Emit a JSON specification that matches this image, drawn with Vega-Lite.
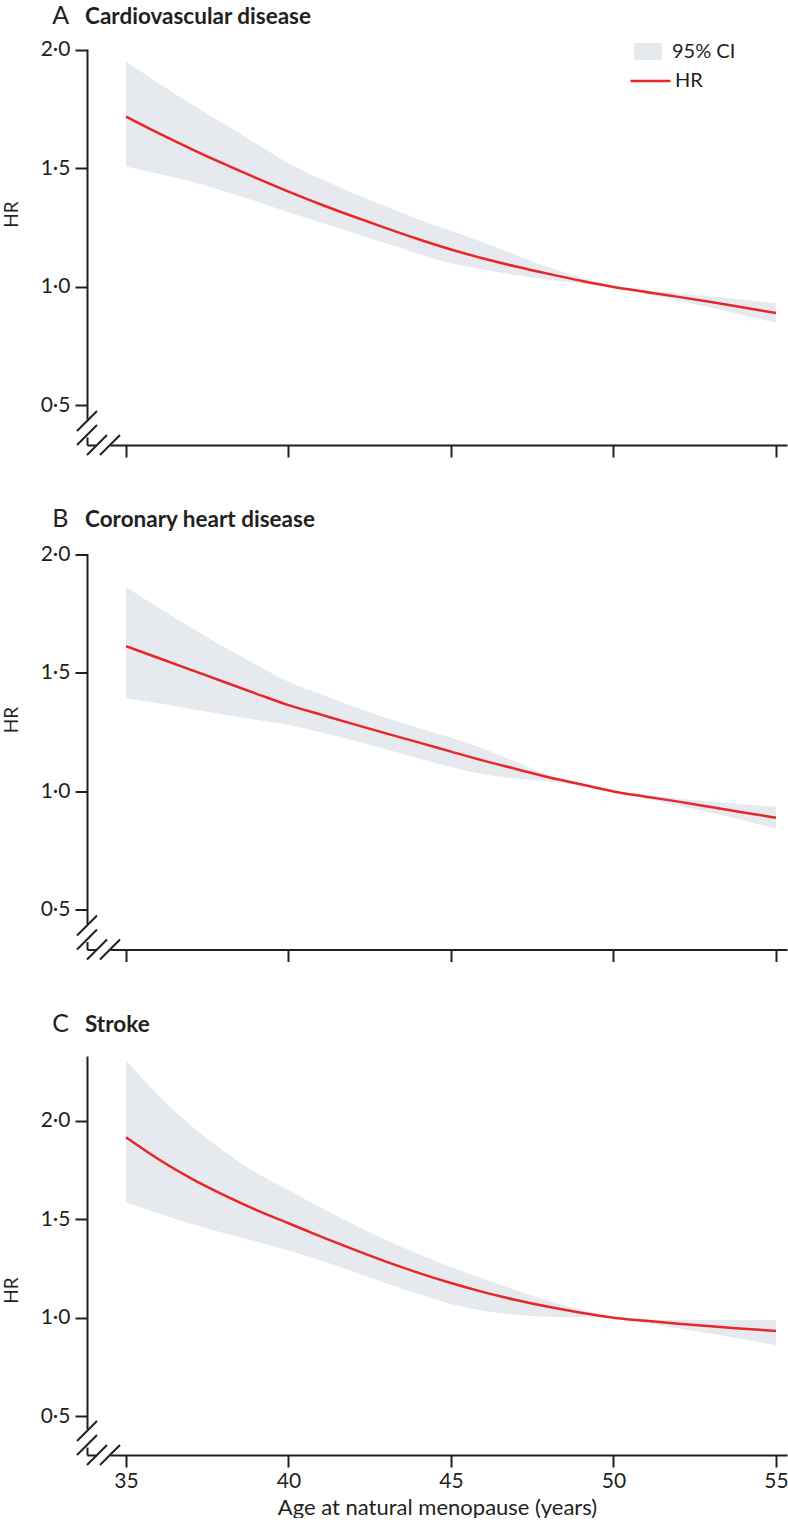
{
  "$schema": "https://vega.github.io/schema/vega-lite/v6.json",
  "padding": {"left": 2, "top": 3, "right": 0, "bottom": 0},
  "background": "white",
  "datasets": {
    "A": [
      {"age": 35, "lo": 1.508, "hr": 1.719, "hi": 1.951},
      {"age": 36, "lo": 1.478, "hr": 1.649, "hi": 1.86},
      {"age": 37, "lo": 1.445, "hr": 1.583, "hi": 1.772},
      {"age": 38, "lo": 1.405, "hr": 1.52, "hi": 1.69},
      {"age": 39, "lo": 1.362, "hr": 1.46, "hi": 1.605},
      {"age": 40, "lo": 1.315, "hr": 1.402, "hi": 1.522},
      {"age": 41, "lo": 1.272, "hr": 1.348, "hi": 1.455},
      {"age": 42, "lo": 1.228, "hr": 1.297, "hi": 1.395},
      {"age": 43, "lo": 1.184, "hr": 1.248, "hi": 1.339},
      {"age": 44, "lo": 1.14, "hr": 1.201, "hi": 1.285},
      {"age": 45, "lo": 1.1, "hr": 1.158, "hi": 1.237},
      {"age": 46, "lo": 1.074, "hr": 1.12, "hi": 1.188},
      {"age": 47, "lo": 1.05, "hr": 1.086, "hi": 1.135},
      {"age": 48, "lo": 1.03, "hr": 1.055, "hi": 1.083},
      {"age": 49, "lo": 1.015, "hr": 1.026, "hi": 1.04},
      {"age": 50, "lo": 1.0, "hr": 1.0, "hi": 1.0},
      {"age": 51, "lo": 0.97, "hr": 0.979, "hi": 0.985},
      {"age": 52, "lo": 0.942, "hr": 0.958, "hi": 0.972},
      {"age": 53, "lo": 0.913, "hr": 0.936, "hi": 0.96},
      {"age": 54, "lo": 0.881, "hr": 0.913, "hi": 0.946},
      {"age": 55, "lo": 0.849, "hr": 0.89, "hi": 0.931}
    ],
    "B": [
      {"age": 35, "lo": 1.392, "hr": 1.613, "hi": 1.863},
      {"age": 36, "lo": 1.372, "hr": 1.563, "hi": 1.775},
      {"age": 37, "lo": 1.348, "hr": 1.513, "hi": 1.692},
      {"age": 38, "lo": 1.325, "hr": 1.463, "hi": 1.61},
      {"age": 39, "lo": 1.303, "hr": 1.413, "hi": 1.535},
      {"age": 40, "lo": 1.28, "hr": 1.364, "hi": 1.463},
      {"age": 41, "lo": 1.25, "hr": 1.324, "hi": 1.41},
      {"age": 42, "lo": 1.215, "hr": 1.284, "hi": 1.358},
      {"age": 43, "lo": 1.178, "hr": 1.245, "hi": 1.31},
      {"age": 44, "lo": 1.14, "hr": 1.207, "hi": 1.268},
      {"age": 45, "lo": 1.103, "hr": 1.168, "hi": 1.226},
      {"age": 46, "lo": 1.072, "hr": 1.13, "hi": 1.18},
      {"age": 47, "lo": 1.055, "hr": 1.095, "hi": 1.125},
      {"age": 48, "lo": 1.043, "hr": 1.06, "hi": 1.07},
      {"age": 49, "lo": 1.025, "hr": 1.03, "hi": 1.03},
      {"age": 50, "lo": 1.0, "hr": 1.0, "hi": 1.0},
      {"age": 51, "lo": 0.97, "hr": 0.978, "hi": 0.985},
      {"age": 52, "lo": 0.94, "hr": 0.957, "hi": 0.97},
      {"age": 53, "lo": 0.91, "hr": 0.934, "hi": 0.956},
      {"age": 54, "lo": 0.877, "hr": 0.911, "hi": 0.945},
      {"age": 55, "lo": 0.844, "hr": 0.889, "hi": 0.935}
    ],
    "C": [
      {"age": 35, "lo": 1.585, "hr": 1.917, "hi": 2.31},
      {"age": 36, "lo": 1.53, "hr": 1.805, "hi": 2.13},
      {"age": 37, "lo": 1.477, "hr": 1.708, "hi": 1.977},
      {"age": 38, "lo": 1.43, "hr": 1.624, "hi": 1.847},
      {"age": 39, "lo": 1.386, "hr": 1.548, "hi": 1.737},
      {"age": 40, "lo": 1.342, "hr": 1.48, "hi": 1.649},
      {"age": 41, "lo": 1.29, "hr": 1.412, "hi": 1.559},
      {"age": 42, "lo": 1.233, "hr": 1.347, "hi": 1.474},
      {"age": 43, "lo": 1.175, "hr": 1.285, "hi": 1.395},
      {"age": 44, "lo": 1.12, "hr": 1.228, "hi": 1.323},
      {"age": 45, "lo": 1.07, "hr": 1.176, "hi": 1.257},
      {"age": 46, "lo": 1.035, "hr": 1.13, "hi": 1.198},
      {"age": 47, "lo": 1.015, "hr": 1.09, "hi": 1.14},
      {"age": 48, "lo": 1.005, "hr": 1.055, "hi": 1.085},
      {"age": 49, "lo": 1.002, "hr": 1.025, "hi": 1.04},
      {"age": 50, "lo": 1.0, "hr": 1.0, "hi": 1.0},
      {"age": 51, "lo": 0.97, "hr": 0.984, "hi": 0.99},
      {"age": 52, "lo": 0.945, "hr": 0.969, "hi": 0.99},
      {"age": 53, "lo": 0.92, "hr": 0.956, "hi": 0.99},
      {"age": 54, "lo": 0.89, "hr": 0.944, "hi": 0.99},
      {"age": 55, "lo": 0.86, "hr": 0.932, "hi": 0.99}
    ]
  },
  "vconcat": [
    {
      "title": {"text": "A", "frame": "bounds", "dx": 50, "offset": -22.5, "fontSize": 25, "fontWeight": "normal"},
      "vconcat": [
        {
          "width": 700,
          "height": 396,
          "title": {"text": "Cardiovascular disease", "frame": "group", "dx": -2, "offset": 10.3},
          "layer": [
            {
              "data": {"name": "A"},
              "mark": {"type": "area", "interpolate": "monotone"},
              "encoding": {
                "x": {"field": "age", "type": "quantitative", "scale": {"domain": [33.8, 55.34], "nice": false, "zero": false},
                      "axis": {"values": [35, 40, 45, 50, 55], "labels": false, "title": null, "tickSize": 12, "domainDash": [9, 14, 3000]}},
                "y": {"field": "lo", "type": "quantitative", "scale": {"domain": [0.333, 2.004], "nice": false, "zero": false},
                      "axis": {"values": [0.5, 1, 1.5, 2], "labelExpr": "replace(format(datum.value,'.1f'),'.','·')", "title": "HR", "tickSize": 12, "domainDash": [8, 18, 3000], "titleY": 165}},
                "y2": {"field": "hi"},
                "fill": {"datum": "95% CI", "type": "nominal", "scale": {"range": ["#e6e9ed"]},
                         "legend": {"title": null, "orient": "none", "legendX": 547, "legendY": -11.5, "symbolType": "M-1,-0.6H1V0.6H-1Z", "symbolSize": 784, "symbolStrokeWidth": 0, "labelOffset": 10}}
              }
            },
            {
              "data": {"name": "A"},
              "mark": {"type": "line", "strokeWidth": 2.5, "interpolate": "monotone"},
              "encoding": {
                "x": {"field": "age", "type": "quantitative"},
                "y": {"field": "hr", "type": "quantitative"},
                "stroke": {"datum": "HR", "type": "nominal", "scale": {"range": ["#e8262a"]},
                           "legend": {"title": null, "orient": "none", "legendX": 542, "legendY": 10.5, "symbolType": "stroke", "symbolSize": 1600, "symbolStrokeWidth": 2.5, "labelOffset": 3}}
              }
            },
            {
              "data": {"values": [{}]},
              "mark": {"type": "point", "shape": "M-1,-1.4L1,-3.4M-1,0L1,-2M0,1L2,-1M1.3,1L3.3,-1", "size": 400, "filled": false, "stroke": "#231f20", "strokeWidth": 2, "opacity": 1},
              "encoding": {
                "x": {"datum": 33.8, "type": "quantitative"},
                "y": {"datum": 0.333, "type": "quantitative"}
              }
            }
          ]
        }
      ]
    },
    {
      "title": {"text": "B", "frame": "bounds", "dx": 50, "offset": -22.5, "fontSize": 25, "fontWeight": "normal"},
      "vconcat": [
        {
          "width": 700,
          "height": 396,
          "title": {"text": "Coronary heart disease", "frame": "group", "dx": -2, "offset": 11.5},
          "layer": [
            {
              "data": {"name": "B"},
              "mark": {"type": "area", "color": "#e6e9ed", "interpolate": "monotone"},
              "encoding": {
                "x": {"field": "age", "type": "quantitative", "scale": {"domain": [33.8, 55.34], "nice": false, "zero": false},
                      "axis": {"values": [35, 40, 45, 50, 55], "labels": false, "title": null, "tickSize": 12, "domainDash": [9, 14, 3000]}},
                "y": {"field": "lo", "type": "quantitative", "scale": {"domain": [0.333, 2.004], "nice": false, "zero": false},
                      "axis": {"values": [0.5, 1, 1.5, 2], "labelExpr": "replace(format(datum.value,'.1f'),'.','·')", "title": "HR", "tickSize": 12, "domainDash": [8, 18, 3000], "titleY": 166}},
                "y2": {"field": "hi"}
              }
            },
            {
              "data": {"name": "B"},
              "mark": {"type": "line", "strokeWidth": 2.5, "color": "#e8262a", "interpolate": "monotone"},
              "encoding": {
                "x": {"field": "age", "type": "quantitative"},
                "y": {"field": "hr", "type": "quantitative"}
              }
            },
            {
              "data": {"values": [{}]},
              "mark": {"type": "point", "shape": "M-1,-1.4L1,-3.4M-1,0L1,-2M0,1L2,-1M1.3,1L3.3,-1", "size": 400, "filled": false, "stroke": "#231f20", "strokeWidth": 2, "opacity": 1},
              "encoding": {
                "x": {"datum": 33.8, "type": "quantitative"},
                "y": {"datum": 0.333, "type": "quantitative"}
              }
            }
          ]
        }
      ]
    },
    {
      "title": {"text": "C", "frame": "bounds", "dx": 50, "offset": -22.5, "fontSize": 25, "fontWeight": "normal"},
      "vconcat": [
        {
          "width": 700,
          "height": 399,
          "title": {"text": "Stroke", "frame": "group", "dx": -2, "offset": 19.5},
          "layer": [
            {
              "data": {"name": "C"},
              "mark": {"type": "area", "color": "#e6e9ed", "interpolate": "monotone"},
              "encoding": {
                "x": {"field": "age", "type": "quantitative", "scale": {"domain": [33.8, 55.34], "nice": false, "zero": false},
                      "axis": {"values": [35, 40, 45, 50, 55], "title": "Age at natural menopause (years)", "tickSize": 12, "domainDash": [9, 14, 3000], "labelPadding": 3, "titlePadding": 6, "titleFontSize": 22}},
                "y": {"field": "lo", "type": "quantitative", "scale": {"domain": [0.302, 2.33], "nice": false, "zero": false},
                      "axis": {"values": [0.5, 1, 1.5, 2], "labelExpr": "replace(format(datum.value,'.1f'),'.','·')", "title": "HR", "tickSize": 12, "domainDash": [8, 18, 3000], "titleY": 234}},
                "y2": {"field": "hi"}
              }
            },
            {
              "data": {"name": "C"},
              "mark": {"type": "line", "strokeWidth": 2.5, "color": "#e8262a", "interpolate": "monotone"},
              "encoding": {
                "x": {"field": "age", "type": "quantitative"},
                "y": {"field": "hr", "type": "quantitative"}
              }
            },
            {
              "data": {"values": [{}]},
              "mark": {"type": "point", "shape": "M-1,-1.4L1,-3.4M-1,0L1,-2M0,1L2,-1M1.3,1L3.3,-1", "size": 400, "filled": false, "stroke": "#231f20", "strokeWidth": 2, "opacity": 1},
              "encoding": {
                "x": {"datum": 33.8, "type": "quantitative"},
                "y": {"datum": 0.302, "type": "quantitative"}
              }
            }
          ]
        }
      ]
    }
  ],
  "spacing": 47.5,
  "resolve": {
    "scale": {"fill": "independent", "stroke": "independent"},
    "legend": {"fill": "independent", "stroke": "independent"}
  },
  "config": {
    "font": "Lato",
    "view": {"stroke": null},
    "concat": {"spacing": 0},
    "axis": {
      "grid": false,
      "domainColor": "#231f20",
      "domainWidth": 2,
      "tickColor": "#231f20",
      "tickWidth": 2,
      "labelColor": "#231f20",
      "labelFontSize": 21,
      "labelPadding": 5,
      "titleColor": "#231f20",
      "titleFontSize": 19,
      "titleFontWeight": "normal",
      "titlePadding": 19
    },
    "legend": {
      "labelFontSize": 20,
      "labelColor": "#231f20",
      "padding": 0,
      "symbolOffset": 0,
      "rowPadding": 0
    },
    "title": {
      "anchor": "start",
      "baseline": "alphabetic",
      "fontSize": 22.5,
      "fontWeight": "bold",
      "color": "#231f20"
    }
  }
}
